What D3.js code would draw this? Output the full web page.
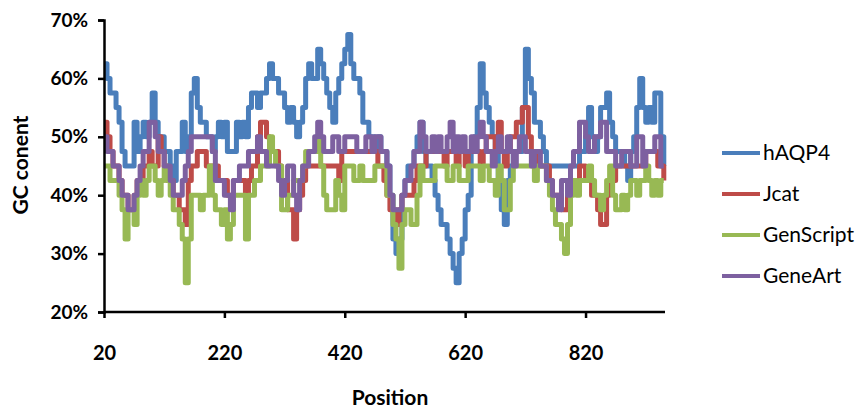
<!DOCTYPE html>
<html>
<head>
<meta charset="utf-8">
<script src="https://cdn.jsdelivr.net/npm/d3@7"></script>
<style>
  body { margin: 0; background: #fff; }
  svg text { font-family: Lato, "Open Sans", sans-serif; fill: #000; }
</style>
</head>
<body>
<div id="viz"></div>
<script>
// window position (nt) on the x axis
var positions = [20,25,30,35,40,45,50,55,60,65,70,75,80,85,90,95,100,105,110,115,
  120,125,130,135,140,145,150,155,160,165,170,175,180,185,190,195,200,205,210,215,
  220,225,230,235,240,245,250,255,260,265,270,275,280,285,290,295,300,305,310,315,
  320,325,330,335,340,345,350,355,360,365,370,375,380,385,390,395,400,405,410,415,
  420,425,430,435,440,445,450,455,460,465,470,475,480,485,490,495,500,505,510,515,
  520,525,530,535,540,545,550,555,560,565,570,575,580,585,590,595,600,605,610,615,
  620,625,630,635,640,645,650,655,660,665,670,675,680,685,690,695,700,705,710,715,
  720,725,730,735,740,745,750,755,760,765,770,775,780,785,790,795,800,805,810,815,
  820,825,830,835,840,845,850,855,860,865,870,875,880,885,890,895,900,905,910,915,
  920,925,930,935,940,945,950];

// GC content (%)
var hAQP4 = [62.5,60,57.5,57.5,55,52.5,47.5,45,45,45,52.5,47.5,50,52.5,50,52.5,57.5,52.5,50,50,
  47.5,47.5,45,42.5,47.5,47.5,52.5,47.5,50,57.5,60,55,52.5,52.5,50,50,47.5,50,52.5,50,
  52.5,47.5,47.5,47.5,52.5,50,52.5,50,55,57.5,57.5,55,57.5,57.5,60,62.5,60,60,57.5,57.5,
  55,52.5,55,52.5,50,52.5,55,60,62.5,60,60,65,62.5,60,57.5,55,52.5,57.5,60,62.5,
  65,67.5,62.5,60,60,57.5,52.5,52.5,50,50,47.5,50,47.5,47.5,45,40,32.5,30,32.5,40,
  42.5,45,45,47.5,50,52.5,47.5,45,45,42.5,40,37.5,35,35,32.5,30,27.5,25,30,32.5,
  37.5,40,47.5,50,55,62.5,57.5,55,52.5,50,47.5,42.5,37.5,35,42.5,45,47.5,47.5,47.5,55,
  65,60,57.5,52.5,52.5,50,47.5,45,45,45,45,45,45,45,45,45,45,45,47.5,47.5,
  50,55,50,47.5,50,55,55,57.5,52.5,50,47.5,47.5,47.5,45,42.5,47.5,50,55,60,55,
  52.5,55,52.5,57.5,57.5,50,45];
var jcat = [52.5,50,47.5,45,45,42.5,40,40,37.5,37.5,40,42.5,42.5,45,45,47.5,45,45,50,47.5,
  45,42.5,42.5,40,40,37.5,37.5,35,42.5,45,45,47.5,47.5,47.5,45,45,45,45,42.5,42.5,
  42.5,40,40,42.5,42.5,42.5,42.5,40,42.5,45,45,50,52.5,52.5,50,47.5,47.5,47.5,45,42.5,
  42.5,37.5,37.5,32.5,37.5,40,42.5,45,45,45,45,45,45,45,45,45,45,45,42.5,47.5,
  47.5,47.5,47.5,47.5,47.5,47.5,47.5,47.5,47.5,47.5,47.5,45,45,42.5,40,37.5,37.5,35,37.5,40,
  40,40,40,42.5,45,45,45,47.5,47.5,47.5,47.5,47.5,47.5,45,47.5,47.5,47.5,45,47.5,47.5,
  45,47.5,47.5,47.5,47.5,45,47.5,50,50,50,47.5,52.5,47.5,45,47.5,50,50,52.5,52.5,55,
  55,50,47.5,47.5,45,45,45,45,42.5,40,40,40,37.5,37.5,40,42.5,42.5,42.5,45,45,
  42.5,42.5,40,40,37.5,35,35,40,42.5,42.5,45,45,45,45,45,45,45,45,45,45,
  47.5,47.5,47.5,47.5,45,45,42.5];
var genScript = [45,45,42.5,42.5,42.5,40,37.5,32.5,37.5,37.5,35,40,42.5,40,42.5,45,45,42.5,40,42.5,
  45,42.5,40,37.5,37.5,35,32.5,25,32.5,40,40,40,37.5,40,40,45,40,37.5,37.5,35,
  37.5,32.5,35,40,40,40,40,32.5,40,40,42.5,42.5,45,45,45,50,47.5,45,45,37.5,
  37.5,40,40,42.5,42.5,42.5,45,47.5,47.5,47.5,47.5,50,45,40,37.5,37.5,37.5,42.5,40,37.5,
  45,45,45,42.5,42.5,45,42.5,42.5,42.5,42.5,45,45,45,45,40,40,35,32.5,27.5,35,
  37.5,37.5,35,35,40,45,42.5,42.5,42.5,42.5,45,45,45,45,42.5,42.5,45,45,42.5,42.5,
  42.5,45,45,45,45,42.5,45,45,42.5,42.5,40,45,42.5,37.5,37.5,42.5,45,45,45,45,
  45,45,45,42.5,45,45,45,42.5,40,37.5,35,35,32.5,30,35,40,42.5,40,42.5,42.5,
  42.5,45,42.5,40,40,37.5,40,42.5,45,40,37.5,37.5,40,37.5,40,42.5,42.5,40,42.5,42.5,
  45,42.5,40,42.5,40,42.5,42.5];
var geneArt = [50,47.5,47.5,45,45,42.5,40,40,37.5,37.5,40,42.5,45,47.5,47.5,52.5,52.5,50,47.5,47.5,
  45,45,42.5,40,40,40,42.5,45,47.5,50,50,50,50,50,50,50,47.5,42.5,42.5,42.5,
  40,40,37.5,42.5,42.5,45,45,45,47.5,47.5,47.5,50,47.5,47.5,45,45,45,45,42.5,40,
  42.5,45,45,40,37.5,42.5,45,45,47.5,47.5,50,52.5,50,47.5,47.5,47.5,50,50,47.5,47.5,
  50,50,50,50,47.5,47.5,47.5,50,50,47.5,50,50,47.5,47.5,45,40,37.5,37.5,37.5,40,
  42.5,42.5,45,47.5,47.5,52.5,50,47.5,47.5,50,47.5,50,47.5,47.5,50,52.5,47.5,50,47.5,50,
  47.5,47.5,50,47.5,50,52.5,50,47.5,47.5,45,47.5,50,47.5,47.5,50,47.5,45,47.5,50,50,
  47.5,47.5,45,47.5,47.5,45,45,42.5,42.5,40,40,37.5,42.5,42.5,40,45,47.5,47.5,52.5,52.5,
  50,47.5,47.5,50,50,52.5,52.5,47.5,47.5,47.5,45,45,47.5,47.5,47.5,45,45,50,50,45,
  47.5,47.5,47.5,50,50,45,45];

var seriesNames = ["hAQP4", "Jcat", "GenScript", "GeneArt"];
var seriesValues = [hAQP4, jcat, genScript, geneArt];
var colors = ["#4a7ebb", "#be4b48", "#98b954", "#7d60a0"];
var xTicks = [20, 220, 420, 620, 820];
var yTicks = [20, 30, 40, 50, 60, 70];

var svg = d3.select("#viz")
    .append("svg")
    .attr("width", 868)
    .attr("height", 408);

var x = d3.scaleLinear().domain([20, 952]).range([104, 665]);
var y = d3.scaleLinear().domain([20, 70]).range([312, 20]);

// lines, first series at the bottom
var line = d3.line()
    .x(function(d, i) { return x(positions[i]); })
    .y(function(d) { return y(d); })
    .curve(d3.curveStepAfter);

svg.selectAll("path.series")
    .data(seriesValues)
    .enter()
    .append("path")
    .attr("class", "series")
    .attr("d", line)
    .attr("fill", "none")
    .attr("stroke", function(d, i) { return colors[i]; })
    .attr("stroke-width", 5)
    .attr("stroke-linejoin", "round");

// axes
var yAxis = svg.append("g")
    .attr("transform", "translate(104,0)")
    .call(d3.axisLeft(y).tickValues(yTicks).tickSize(6).tickPadding(10)
        .tickFormat(function(d) { return d + "%"; }));
var xAxis = svg.append("g")
    .attr("transform", "translate(0,312)")
    .call(d3.axisBottom(x).tickValues(xTicks).tickSize(6).tickPadding(28)
        .tickSizeOuter(0));

[yAxis, xAxis].forEach(function(g) {
    g.select(".domain").attr("stroke", "#000").attr("stroke-width", 2.5);
    g.selectAll(".tick line").attr("stroke", "#000").attr("stroke-width", 2.5);
    g.selectAll(".tick text").attr("font-family", "Lato").attr("font-weight", "bold")
        .attr("fill", "#000");
});
yAxis.selectAll(".tick text").attr("font-size", 19);
xAxis.selectAll(".tick text").attr("font-size", 20);
xAxis.select(".domain").attr("d", "M104,0H665");

svg.append("text")
    .attr("transform", "translate(28,165) rotate(-90)")
    .attr("text-anchor", "middle")
    .attr("font-size", 21)
    .attr("font-weight", "bold")
    .text("GC conent");

svg.append("text")
    .attr("x", 390)
    .attr("y", 405)
    .attr("text-anchor", "middle")
    .attr("font-size", 21)
    .attr("font-weight", "bold")
    .text("Position");

// legend
var legend = svg.selectAll("g.legend")
    .data(seriesNames)
    .enter()
    .append("g")
    .attr("class", "legend")
    .attr("transform", function(d, i) { return "translate(722," + (153 + i * 41) + ")"; });
legend.append("line")
    .attr("x2", 38)
    .attr("stroke", function(d, i) { return colors[i]; })
    .attr("stroke-width", 4);
legend.append("text")
    .attr("x", 41)
    .attr("dy", "0.35em")
    .attr("font-size", 21)
    .text(function(d) { return d; });
</script>
</body>
</html>
